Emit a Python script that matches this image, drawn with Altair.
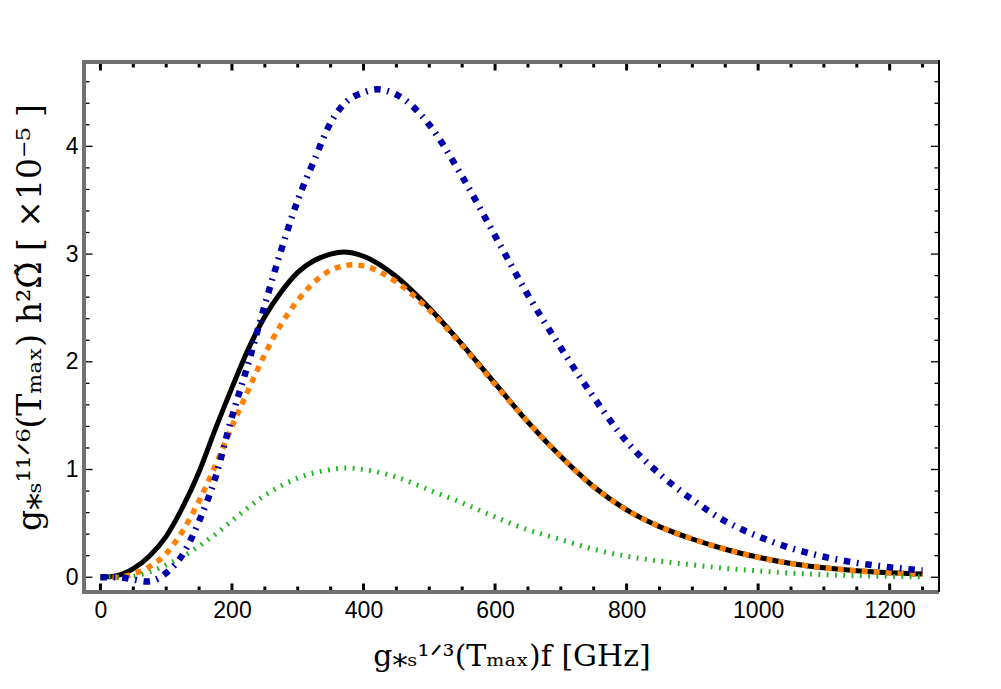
import altair as alt
import pandas as pd

# ---- data ----
f_black = [0, 25, 50, 75, 100, 125, 150, 175, 200, 225, 250, 275, 300, 325, 350, 370,
           400, 450, 500, 550, 600, 650, 700, 750, 800, 850, 900, 950, 1000, 1050,
           1100, 1150, 1200, 1250]
v_black = [0.0, 0.015, 0.08, 0.2, 0.38, 0.65, 0.98, 1.38, 1.76, 2.12, 2.42, 2.65, 2.83,
           2.94, 3.0, 3.02, 2.98, 2.79, 2.5, 2.16, 1.8, 1.44, 1.12, 0.84, 0.625, 0.47,
           0.355, 0.26, 0.185, 0.128, 0.088, 0.06, 0.042, 0.03]

f_orange = [0, 25, 50, 75, 100, 125, 150, 175, 200, 225, 250, 275, 300, 325, 350, 385,
            400, 450, 500, 550, 600, 650, 700, 750, 800, 850, 900, 950, 1000, 1050,
            1100, 1150, 1200, 1250]
v_orange = [0.0, 0.0, 0.03, 0.1, 0.22, 0.43, 0.71, 1.04, 1.4, 1.74, 2.07, 2.35, 2.57,
            2.74, 2.85, 2.9, 2.89, 2.74, 2.48, 2.15, 1.79, 1.44, 1.12, 0.84, 0.625,
            0.47, 0.355, 0.26, 0.185, 0.128, 0.088, 0.06, 0.04, 0.027]

f_blue = [0, 25, 50, 70, 85, 100, 125, 150, 175, 200, 225, 250, 275, 300, 325, 350,
          375, 400, 421, 450, 475, 500, 550, 600, 650, 700, 750, 800, 850, 900, 950,
          1000, 1050, 1100, 1150, 1200, 1250]
v_blue = [0.0, 0.0, -0.02, -0.04, -0.02, 0.04, 0.21, 0.52, 0.93, 1.49, 1.99, 2.53,
          3.04, 3.5, 3.87, 4.22, 4.42, 4.5, 4.53, 4.48, 4.37, 4.2, 3.72, 3.17, 2.62,
          2.13, 1.67, 1.26, 0.96, 0.72, 0.52, 0.38, 0.27, 0.19, 0.133, 0.093, 0.062]

f_green = [0, 25, 50, 75, 100, 125, 150, 175, 200, 250, 300, 350, 375, 400, 450, 500,
           550, 600, 650, 700, 750, 800, 850, 900, 950, 1000, 1050, 1100, 1150, 1200,
           1250]
v_green = [0.0, 0.0, 0.01, 0.05, 0.115, 0.19, 0.29, 0.4, 0.525, 0.76, 0.92, 1.0, 1.015,
           1.0, 0.93, 0.81, 0.69, 0.56, 0.44, 0.35, 0.26, 0.195, 0.15, 0.115, 0.083,
           0.059, 0.038, 0.024, 0.014, 0.008, 0.004]

x_major = [0, 200, 400, 600, 800, 1000, 1200]
x_minor = [50, 100, 150, 250, 300, 350, 450, 500, 550, 650, 700, 750, 850, 900, 950,
           1050, 1100, 1150, 1250]
y_major = [0, 1, 2, 3, 4]
y_minor = [0.2, 0.4, 0.6, 0.8, 1.2, 1.4, 1.6, 1.8, 2.2, 2.4, 2.6, 2.8, 3.2, 3.4, 3.6,
           3.8, 4.2, 4.4, 4.6]

x_title = "g\u204e\u209b\u00b9\u141f\u00b3(T\u2098\u2090\u2093)f  [GHz]"
y_title = "g\u204e\u209b\u00b9\u00b9\u141f\u2076(T\u2098\u2090\u2093)  h\u00b2\u03a9\u0303   [ \u00d710\u207b\u2075 ]"

W, H = 855, 530

df = pd.concat([
    pd.DataFrame({"f": f_black, "v": v_black, "s": "black"}),
    pd.DataFrame({"f": f_orange, "v": v_orange, "s": "orange"}),
    pd.DataFrame({"f": f_green, "v": v_green, "s": "green"}),
    pd.DataFrame({"f": f_blue, "v": v_blue, "s": "blue"}),
])

xscale = alt.Scale(domain=[-25, 1275], nice=False, zero=False)
yscale = alt.Scale(domain=[-0.137, 4.783], nice=False, zero=False)

xaxis = alt.Axis(values=x_major, format="d", domain=False, ticks=False, grid=False,
                 labelFont="Liberation Sans", labelFontSize=23, labelColor="black",
                 labelPadding=7, title=x_title, titleFont="DejaVu Serif",
                 titleFontSize=30, titleFontWeight="normal", titleColor="black",
                 titleX=W / 2, titleY=73, titleBaseline="alphabetic",
                 titleAlign="center")
yaxis = alt.Axis(values=y_major, format="d", domain=False, ticks=False, grid=False,
                 labelFont="Liberation Sans", labelFontSize=23, labelColor="black",
                 labelPadding=6, title=y_title, titleFont="DejaVu Serif",
                 titleFontSize=33, titleFontWeight="normal", titleColor="black",
                 titleX=-44, titleY=255, titleAngle=270, titleBaseline="alphabetic",
                 titleAlign="center")

X = alt.X("f:Q", scale=xscale, axis=xaxis)
Y = alt.Y("v:Q", scale=yscale, axis=yaxis)

base = alt.Chart(df)

black = base.transform_filter(alt.datum.s == "black").mark_line(
    color="black", strokeWidth=5, interpolate="monotone").encode(x=X, y=Y)
orange = base.transform_filter(alt.datum.s == "orange").mark_line(
    color="#FF8000", strokeWidth=5.5, strokeDash=[6, 6],
    interpolate="monotone").encode(x=X, y=Y)
green = base.transform_filter(alt.datum.s == "green").mark_line(
    color="#1DB51D", strokeWidth=5, strokeDash=[1.8, 6.5],
    interpolate="monotone").encode(x=X, y=Y)
blue = base.transform_filter(alt.datum.s == "blue").mark_line(
    color="#0000AA", strokeWidth=6.5, strokeDash=[6.5, 6.6, 1.8, 6.8],
    interpolate="monotone").encode(x=X, y=Y)

xmaj_df = pd.DataFrame({"f": x_major})
xmin_df = pd.DataFrame({"f": x_minor})
ymaj_df = pd.DataFrame({"v": y_major})
ymin_df = pd.DataFrame({"v": y_minor})

def xticks(data, y0, y1, w):
    return alt.Chart(data).mark_rule(color="black", strokeWidth=w).encode(
        x=X, y=alt.value(y0), y2=alt.value(y1))

def yticks(data, x0, x1, w):
    return alt.Chart(data).mark_rule(color="black", strokeWidth=w).encode(
        y=Y, x=alt.value(x0), x2=alt.value(x1))

ticks = [
    xticks(xmaj_df, H - 1.5, H - 8.5, 3), xticks(xmin_df, H - 1.5, H - 5.5, 3),
    xticks(xmaj_df, 1.5, 8.5, 3), xticks(xmin_df, 1.5, 5.5, 3),
    yticks(ymaj_df, 1.5, 8.5, 1.3), yticks(ymin_df, 1.5, 5.5, 1.3),
    yticks(ymaj_df, W, W - 8, 1.3), yticks(ymin_df, W, W - 4.5, 1.3),
]

gray = "#707070"
frame = [
    alt.Chart(xmaj_df).mark_rule(color=gray, strokeWidth=3).encode(
        x=alt.value(-1.5), x2=alt.value(W), y=alt.value(H)),
    alt.Chart(xmaj_df).mark_rule(color=gray, strokeWidth=3).encode(
        x=alt.value(-1.5), x2=alt.value(W), y=alt.value(0)),
    alt.Chart(xmaj_df).mark_rule(color=gray, strokeWidth=3).encode(
        x=alt.value(0), y=alt.value(0), y2=alt.value(H + 1.5)),
    alt.Chart(xmaj_df).mark_rule(color="black", strokeWidth=1.3).encode(
        x=alt.value(W), y=alt.value(-1.5), y2=alt.value(H)),
]

chart = alt.layer(black, orange, green, blue, *ticks, *frame).properties(
    width=W, height=H,
    padding={"left": 76, "top": 54, "right": 50, "bottom": 90},
    autosize=alt.AutoSizeParams(type="none"),
).configure_view(strokeWidth=0)

chart.save("out.html", embed_options={"renderer": "svg", "actions": False})
